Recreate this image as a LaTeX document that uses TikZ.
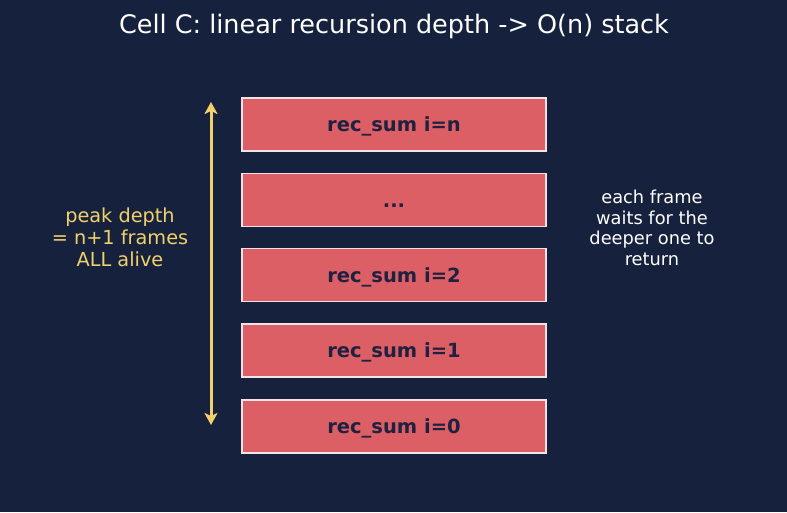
\documentclass[tikz,border=0pt]{standalone}
\usepackage{fontspec}
\setmainfont{DejaVu Sans}
\usetikzlibrary{arrows.meta}
\definecolor{bgNavy}{HTML}{16213E}
\definecolor{frameRed}{HTML}{DC5F66}
\definecolor{frameEdge}{HTML}{F2E4E6}
\definecolor{frameText}{HTML}{1E2140}
\definecolor{depthGold}{HTML}{F2D06B}

\begin{document}
\begin{tikzpicture}[
        x=1pt, y=-1pt,
        every node/.style={font=\fontsize{13}{15}\selectfont},
        stackFrame/.style={draw=frameEdge, fill=frameRed, line width=1.4pt,
            minimum width=304pt, minimum height=53pt, inner sep=0pt,
            text height=14pt, text depth=0pt,
            text=frameText, font=\fontsize{19.5}{22}\selectfont\bfseries},
        depthArrow/.style={{Stealth[length=12pt,width=13pt,inset=3pt]}-{Stealth[length=12pt,width=13pt,inset=3pt]},
            depthGold, line width=3pt},
        sideNote/.style={align=center}
    ]
        % background and page size
        \fill[bgNavy] (0,0) rectangle (787,512);
        \useasboundingbox (0,0) rectangle (787,512);

        % title
        \node[white, font=\fontsize{25.5}{28}\selectfont] (title) at (394,26)
            {Cell C: linear recursion depth -> O(n) stack};

        % call stack, deepest frame at the bottom
        \node[stackFrame] (frameN) at (394,124.5) {rec\_sum i=n};
        \node[stackFrame] (frameDots) at (394,200) {...};
        \node[stackFrame] (frameTwo) at (394,275) {rec\_sum i=2};
        \node[stackFrame] (frameOne) at (394,350.5) {rec\_sum i=1};
        \node[stackFrame] (frameZero) at (394,426.5) {rec\_sum i=0};

        % depth marker on the left
        \coordinate (depthTop) at (211,102);
        \coordinate (depthBot) at (211,425);
        \draw[depthArrow] (depthTop) -- (depthBot);
        \node[sideNote, depthGold, font=\fontsize{19.3}{22}\selectfont] (depthNote) at (120,237)
            {peak depth\\= n+1 frames\\ALL alive};

        % note on the right
        \node[sideNote, white, font=\fontsize{17.8}{20.7}\selectfont] (waitNote) at (652,228)
            {each frame\\waits for the\\deeper one to\\return};

    \end{tikzpicture}
\end{document}
